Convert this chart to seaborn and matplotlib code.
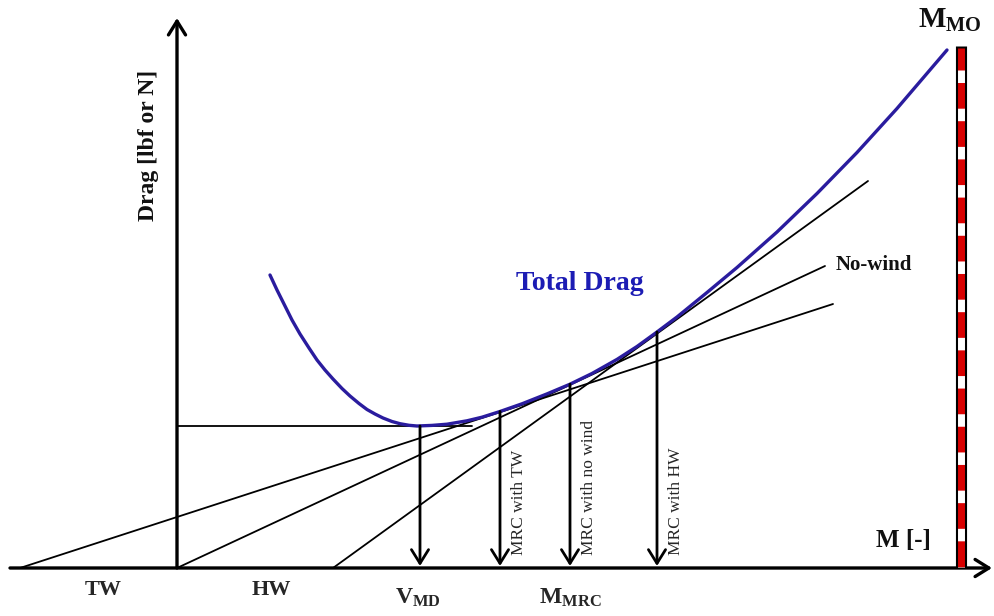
import pandas as pd
import seaborn as sns
import matplotlib.pyplot as plt

curve_m = [93, 100, 106, 115, 123, 132, 140, 148, 156, 165, 173, 182, 190, 198,
           206, 215, 223, 232, 240, 255, 270, 290, 305, 323, 345, 370, 393, 415,
           440, 460, 480, 500, 530, 560, 600, 640, 680, 720, 770]
curve_drag = [293, 278, 266, 248, 234, 220, 208, 198, 189, 179.5, 172, 164.5, 158.5, 154,
              150, 146.5, 144.3, 142.7, 142, 142.6, 143.8, 147.2, 150.8, 156.5, 164.2, 174.1, 183.8, 194.5,
              208.6, 221.5, 236, 251, 275.5, 300.5, 336, 374.5, 415.5, 459.5, 518]

# Rectas tangentes (TW, sin viento, HW)
line_names = ["TW", "No-wind", "HW"]
line_m_start = [-157, 0, 156]
line_m_end = [656, 648, 691]
line_drag_end = [264, 302, 387]

# Puntos de MRC y V_MD
mrc_labels = ["MRC with TW", "MRC with no wind", "MRC with HW"]
mrc_m = [323, 393, 480]
mrc_drag = [156.5, 183.8, 236]
vmd_m = 243
vmd_drag = 142
vmd_line_end = 295

# Ejes y limite M_MO
m_axis = [-167, 815]
drag_axis_top = 550
mmo_m = 784
mmo_top = 520

sns.set_theme(style="white")
plt.rcParams['font.family'] = ['Liberation Serif', 'DejaVu Serif']
plt.rcParams['mathtext.fontset'] = 'custom'
plt.rcParams['mathtext.rm'] = 'Liberation Serif:bold'
plt.rcParams['mathtext.bf'] = 'Liberation Serif:bold'
plt.rcParams['mathtext.default'] = 'bf'
plt.rcParams['lines.scale_dashes'] = False

fig = plt.figure(figsize=(9.94, 6.16), dpi=100)
ax = fig.add_axes([0, 0, 1, 1])
ax.set_xlim(-177, 817)
ax.set_ylim(-48, 568)
ax.axis('off')

# Rectas tangentes
df_lines = pd.DataFrame({
    'name': line_names * 2,
    'm': line_m_start + line_m_end,
    'drag': [0, 0, 0] + line_drag_end,
})
sns.lineplot(data=df_lines, x='m', y='drag', units='name', estimator=None,
             color='black', lw=1.3, ax=ax, legend=False)

# Horizontal de resistencia minima
sns.lineplot(x=[0, vmd_line_end], y=[vmd_drag, vmd_drag], color='black', lw=1.3, ax=ax)

# Curva de resistencia total
sns.lineplot(x=curve_m, y=curve_drag, sort=False, color='#2a1c9e', lw=2.4, ax=ax)

arrow = dict(arrowstyle='->,head_length=0.45,head_width=0.28', lw=2.0, color='black',
             mutation_scale=22, shrinkA=0, shrinkB=0)

# Ejes con flecha
ax.annotate('', xy=(m_axis[1], 0), xytext=(m_axis[0], 0), arrowprops=dict(arrow, lw=2.4))
ax.annotate('', xy=(0, drag_axis_top), xytext=(0, 0), arrowprops=dict(arrow, lw=2.4))

# Flechas verticales
for m, d in zip([vmd_m] + mrc_m, [vmd_drag] + mrc_drag):
    ax.annotate('', xy=(m, 2), xytext=(m, d), arrowprops=arrow)

# Limite M_MO (barra roja y blanca)
ax.plot([mmo_m, mmo_m], [0, mmo_top + 2], color='black', lw=8, solid_capstyle='butt', zorder=5)
ax.plot([mmo_m, mmo_m], [1, mmo_top], color='#d80000', lw=5, solid_capstyle='butt', zorder=6)
ax.plot([mmo_m, mmo_m], [mmo_top - 22, 1], color='white', lw=5, solid_capstyle='butt',
        dashes=(9, 18.5), zorder=7)

# Textos
ax.text(-29, 423, 'Drag [lbf or N]', rotation=90, ha='center', va='center',
        fontsize=17, fontweight='bold', color='#111111')
ax.text(773, 548, r'$M_{MO}$', ha='center', va='center', fontsize=21, color='#111111')
ax.text(403, 285, 'Total Drag', ha='center', va='center', fontsize=20,
        fontweight='bold', color='#1c1cb4')
ax.text(659, 303, 'No-wind', ha='left', va='center', fontsize=15,
        fontweight='bold', color='#111111')
ax.text(726, 27, 'M [-]', ha='center', va='center', fontsize=18,
        fontweight='bold', color='#111111')
ax.text(-74, -22, 'TW', ha='center', va='center', fontsize=16, fontweight='bold')
ax.text(94, -22, 'HW', ha='center', va='center', fontsize=16, fontweight='bold')
ax.text(241, -30, r'$V_{MD}$', ha='center', va='center', fontsize=17)
ax.text(393, -30, r'$M_{MRC}$', ha='center', va='center', fontsize=17)

for m, lab in zip(mrc_m, mrc_labels):
    ax.text(m + 19, 13, lab, rotation=90, ha='center', va='bottom', fontsize=12.5)

fig.savefig('out.png', dpi=100)
